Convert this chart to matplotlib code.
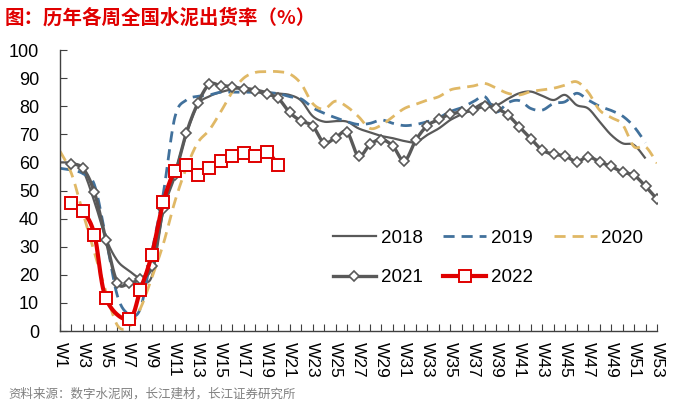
import numpy as np
import matplotlib
matplotlib.use("Agg")
from matplotlib import pyplot as plt

plt.rcParams["font.family"] = ["Liberation Sans", "Noto Sans CJK SC", "DejaVu Sans"]

# weekly cement shipment rate (%)
weeks = list(range(1, 54))
week_labels = ["W%d" % w if w % 2 == 1 else "" for w in weeks]

rate_2018 = [60, 59.7, 57, 46, 33, 25, 21.5, 18.8, 19.5, 43, 56, 70, 80.5, 83.5,
             85, 86, 86.5, 86, 85, 84.5, 84, 82, 76.5, 74.5, 74.7, 74.5, 72.1,
             70.7, 69.4, 68.6, 67.6, 67.2, 69.8, 72.1, 75.1, 77.1, 79.2, 81.3,
             80.4, 82.6, 84.6, 85.2, 83.7, 82.2, 84, 80.4, 79.2, 74.5, 69.8,
             66.8, 66.2, 61.4, None]
rate_2019 = [57.9, 57.3, 56, 52, 33, 12.5, 6, 8, 28, 49, 76, 82.2, 83.5, 84,
             85, 85, 85, 85, 84.8, 84.5, 83.4, 82.6, 79.5, 77.5, 75.9, 74.5,
             73.5, 73.9, 75.1, 73.9, 73.1, 73.5, 74.5, 75.9, 78.1, 79.5, 81.6,
             83.4, 78, 81.2, 82, 79.2, 78.6, 81, 81.6, 84.6, 82.2, 80, 78.5,
             76.5, 72.7, 67, None]
rate_2020 = [64, 56, 42, 28, 14, 2, 1.5, 8, 19, 31, 46, 58, 67, 71.5, 78, 85,
             90, 92, 92.3, 92.3, 91.5, 88, 81, 79, 81.8, 79.8, 76.3, 72.1, 73.3,
             76.3, 79.2, 80.7, 82.2, 83.4, 85.8, 86.6, 87.2, 88.1, 86.4, 84.6,
             84, 85.2, 85.8, 86.4, 87.5, 88.7, 85, 78.6, 76, 73.5, 65.6, 65.6,
             59.7]
rate_2021 = [None, 59.5, 57.9, 49.3, 32.5, 17.2, 17, 18.6, 23, 43.5, 55.5, 70.4,
             81, 87.8, 87.3, 87, 86.1, 85.4, 84.3, 82.8, 77.8, 74.7, 73, 67,
             68.8, 70.8, 62.2, 66.4, 68.1, 65.8, 60.5, 68, 73.1, 75.3, 77.3,
             77.8, 78.6, 80.1, 79.2, 76.9, 72.7, 68.5, 64.4, 62.9, 62.3, 60.3,
             62, 60.2, 58.6, 56.5, 55.4, 51.5, 46.9]
rate_2022 = [None, 45.7, 42.6, 34.3, 11.6, None, 4.1, 14.6, 27.2, 45.9, 56.9,
             59.2, 55.4, 57.9, 60.5, 62.2, 63.3, 62.1, 63.7, 59] + [None] * 33


def smooth(xs, ys, n=16):
    # Excel-like smoothed line (Catmull-Rom through the points)
    pts = [(x, y) for x, y in zip(xs, ys) if y is not None]
    p = np.array(pts, dtype=float)
    q = np.vstack([p[:1], p, p[-1:]])
    t = np.linspace(0, 1, n)[:, None]
    out = []
    for i in range(len(p) - 1):
        p0, p1, p2, p3 = q[i], q[i + 1], q[i + 2], q[i + 3]
        c1 = p1 + (p2 - p0) / 6.0
        c2 = p2 - (p3 - p1) / 6.0
        seg = ((1 - t) ** 3) * p1 + 3 * ((1 - t) ** 2) * t * c1 \
            + 3 * (1 - t) * t ** 2 * c2 + t ** 3 * p2
        out.append(seg if i == 0 else seg[1:])
    s = np.vstack(out)
    return s[:, 0], s[:, 1]


fig = plt.figure(figsize=(6.81, 4.04), dpi=100)
ax = fig.add_axes([60 / 681, 73 / 404, 597 / 681, 281 / 404])

grey = "#595959"
blue = "#41719C"
tan = "#E0B865"
red = "#E00000"

series = [
    ("2018", rate_2018, dict(color=grey, lw=1.6)),
    ("2019", rate_2019, dict(color=blue, lw=2.0, dashes=(4, 2.5))),
    ("2020", rate_2020, dict(color=tan, lw=2.0, dashes=(4, 2.5))),
    ("2021", rate_2021, dict(color=grey, lw=2.4, marker="D", ms=5,
                             mfc="white", mec=grey, mew=1.2)),
    ("2022", rate_2022, dict(color=red, lw=3.0, marker="s", ms=8,
                             mfc="white", mec=red, mew=1.4)),
]

handles = {}
for name, vals, style in series:
    sx, sy = smooth(weeks, vals)
    line_style = {k: v for k, v in style.items()
                  if k in ("color", "lw", "dashes")}
    ax.plot(sx, sy, solid_capstyle="butt", **line_style)
    if "marker" in style:
        mx = [w for w, v in zip(weeks, vals) if v is not None]
        my = [v for v in vals if v is not None]
        ax.plot(mx, my, ls="none", marker=style["marker"], ms=style["ms"],
                mfc=style["mfc"], mec=style["mec"], mew=style["mew"])
    h, = ax.plot([], [], label=name, **style)
    handles[name] = h

ax.set_xlim(1, 53)
ax.set_ylim(0, 100)
ax.set_yticks(range(0, 101, 10))
ax.set_xticks(weeks)
ax.set_xticklabels(week_labels, rotation=-90, fontsize=12.5, va="top", ha="center")
ax.tick_params(axis="x", direction="in", length=5, width=0.8, color="#404040", pad=8)
ax.tick_params(axis="y", direction="in", length=5, width=0.8, color="#404040",
               pad=15, labelsize=13)
for side in ("top", "right"):
    ax.spines[side].set_visible(False)
for side in ("left", "bottom"):
    ax.spines[side].set_color("#404040")
    ax.spines[side].set_linewidth(1.0)

order = ["2018", "2021", "2019", "2022", "2020"]
ax.legend([handles[k] for k in order], order, ncol=3, frameon=False,
          loc="center left", bbox_to_anchor=(0.457, 0.26), fontsize=13.5,
          handlelength=2.3, handletextpad=0.25, columnspacing=1.1,
          labelspacing=1.2, borderpad=0, borderaxespad=0)

fig.text(5 / 681, 1 - 18 / 404, "图：历年各周全国水泥出货率（%）", color=red,
         fontsize=14, fontweight="bold", va="center", ha="left",
         family=["Noto Sans CJK SC", "DejaVu Sans"])
fig.text(8 / 681, 10 / 404, "资料来源：数字水泥网，长江建材，长江证券研究所",
         color="#808080", fontsize=9, va="center", ha="left",
         family=["Noto Sans CJK SC", "DejaVu Sans"])

fig.savefig("out.png", dpi=100)
